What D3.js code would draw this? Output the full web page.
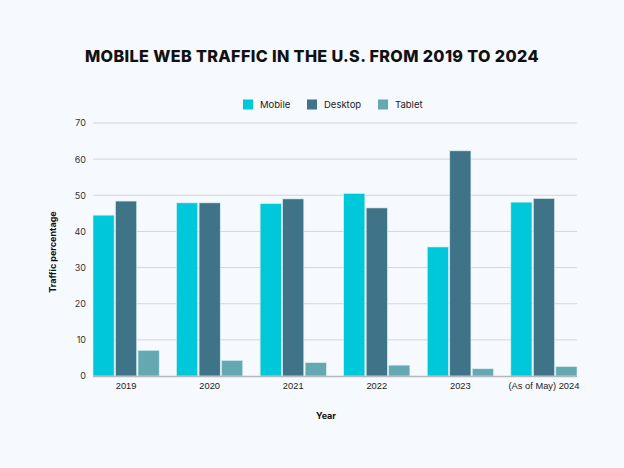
<!DOCTYPE html>
<html><head><meta charset="utf-8">
<script src="https://cdn.jsdelivr.net/npm/d3@7"></script>
<style>
html,body{margin:0;padding:0;background:#f6f9fe;}
svg{display:block;font-family:Inter, "Open Sans", sans-serif;}
</style></head>
<body>
<svg id="c" width="624" height="468"></svg>
<script>
const categories = ["2019","2020","2021","2022","2023","(As of May) 2024"];
const seriesNames = ["Mobile","Desktop","Tablet"];
const mobile  = [44.5, 47.9, 47.7, 50.5, 35.7, 48.1];
const desktop = [48.4, 47.9, 49.0, 46.5, 62.3, 49.1];
const tablet  = [7.1, 4.3, 3.7, 3.0, 2.0, 2.6];
const yTicks = [0,10,20,30,40,50,60,70];
const colors = ["#00c8db","#3e7388","#64a8b1"];

const series = [mobile, desktop, tablet];
const svg = d3.select("#c");
svg.append("rect").attr("width",624).attr("height",468).attr("fill","#f6f9fe");

const pLeft = 93, pRight = 577, pTop = 123, pBottom = 376;
const y = d3.scaleLinear().domain([0,70]).range([pBottom, pTop]);
const x0 = d3.scaleBand().domain(categories).range([pLeft, pRight + 17.4]).paddingInner(0).paddingOuter(0);
const groupW = x0.bandwidth() - 17.4;
const x1 = d3.scaleBand().domain(seriesNames).range([0, groupW]).paddingInner(0.06);

// title
svg.append("text").attr("x",312).attr("y",62).attr("text-anchor","middle")
  .attr("font-size",16.2).attr("font-weight",800).attr("fill","#111").attr("letter-spacing",0.35)
  .text("MOBILE WEB TRAFFIC IN THE U.S. FROM 2019 TO 2024");

// grid
const grid = svg.append("g");
yTicks.forEach(t=>{
  if(t===0) return;
  grid.append("line").attr("x1",pLeft).attr("x2",pRight).attr("y1",y(t)).attr("y2",y(t))
    .attr("stroke","#d3d6da").attr("stroke-width",1);
});
// y axis labels
const yAxis = d3.axisLeft(y).tickValues(yTicks).tickSize(0).tickPadding(0);
const gy = svg.append("g").attr("transform",`translate(${pLeft-7},0)`).call(yAxis);
gy.select(".domain").remove();
gy.selectAll("text").attr("font-size",9).attr("fill","#333").attr("font-family","Inter, sans-serif");

// bars
const g = svg.append("g");
categories.forEach((c,i)=>{
  seriesNames.forEach((s,j)=>{
    g.append("rect")
      .attr("x", x0(c) + x1(s))
      .attr("y", y(series[j][i]))
      .attr("width", x1.bandwidth())
      .attr("height", y(0) - y(series[j][i]))
      .attr("fill", colors[j])
      .attr("stroke", "#d7eef2").attr("stroke-width",0.6);
  });
});

// baseline
svg.append("line").attr("x1",pLeft).attr("x2",pRight).attr("y1",pBottom+0.5).attr("y2",pBottom+0.5)
  .attr("stroke","#b5b9bd").attr("stroke-width",1.5);

// x axis labels
const xAxis = d3.axisBottom(x0).tickSize(0).tickPadding(0);
const gx = svg.append("g").attr("transform",`translate(${-8.7},${pBottom+6.5})`).call(xAxis);
gx.select(".domain").remove();
gx.selectAll("text").attr("font-size",9.3).attr("fill","#222").attr("dy","0.71em");

// axis titles
svg.append("text").attr("x",326).attr("y",419).attr("text-anchor","middle")
  .attr("font-size",9).attr("font-weight",700).attr("fill","#111").text("Year");
svg.append("text").attr("transform","translate(56,252) rotate(-90)").attr("text-anchor","middle")
  .attr("font-size",9).attr("font-weight",700).attr("fill","#111").text("Traffic percentage");

// legend
const legX = [243, 307, 378];
seriesNames.forEach((s,j)=>{
  svg.append("rect").attr("x",legX[j]).attr("y",99.5).attr("width",10).attr("height",10).attr("fill",colors[j]);
  svg.append("text").attr("x",legX[j]+17).attr("y",107.5).attr("font-size",9.5).attr("fill","#222").text(s);
});
</script>
</body></html>
